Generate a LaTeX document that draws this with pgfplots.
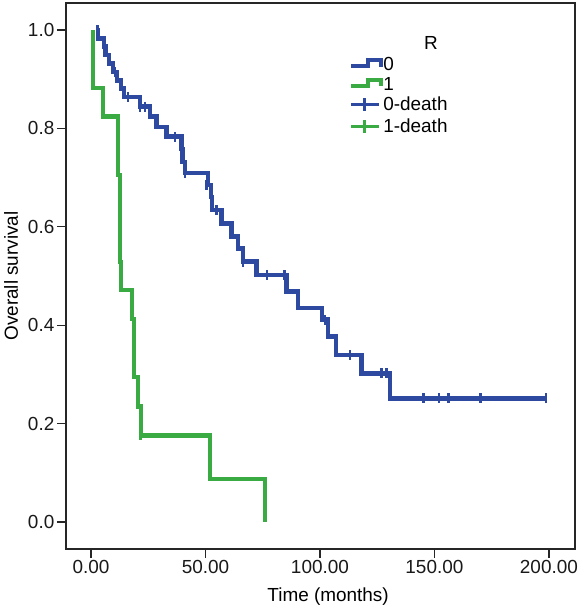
\documentclass[border=0pt]{standalone}
\usepackage{fontspec}
\setmainfont{Liberation Sans}
\usepackage{pgfplots}
\pgfplotsset{compat=1.18}
\definecolor{kmblue}{RGB}{45,73,160}
\definecolor{kmgreen}{RGB}{58,170,66}
\newcommand{\bigf}{\fontsize{19}{22}\selectfont}
\begin{document}
\begin{tikzpicture}
\begin{axis}[name=ax, scale only axis, width=509bp, height=546bp,
  xmin=-10.9, xmax=211.4, ymin=-0.055, ymax=1.055,
  xtick={0,50,100,150,200}, ytick={0,0.2,0.4,0.6,0.8,1.0},
  /pgf/number format/assume math mode=true,
  xticklabel style={/pgf/number format/.cd, fixed, fixed zerofill, precision=2},
  yticklabel style={/pgf/number format/.cd, fixed, fixed zerofill, precision=1},
  every tick label/.append style={font=\bigf, text=black!90, inner sep=2.5bp},
  tick align=outside, tick pos=left, major tick length=9bp,
  every tick/.style={black!85, line width=1.2bp},
  axis line style={line width=1.2bp, black!85},
  xlabel={Time (months)}, ylabel={Overall survival},
  every axis x label/.style={at={(rel axis cs:0.515,0)}, yshift=-48bp, anchor=center, font=\bigf},
  every axis y label/.style={at={(rel axis cs:0,0.5)}, xshift=-55bp, rotate=90, anchor=center, font=\bigf},
  legend style={draw=none, fill=none, at={(rel axis cs:0.55,0.905)}, anchor=north west,
    font=\bigf, nodes={inner sep=0pt, text height=13.5bp, text depth=0pt}, row sep=6bp, column sep=0pt},
  legend cell align=left,
]
% group 0 survival
\addplot[kmblue, line width=4.6bp, const plot, line join=miter,
  legend image code/.code={\draw[kmblue, line width=4.2bp, line join=miter] (0bp,-2.5bp) -- (17bp,-2.5bp) -- (17bp,3.5bp) -- (30bp,3.5bp) -- (30bp,-3bp);}]
coordinates {
(2.6,1.000)(3.1,0.983)(5.7,0.966)(6.3,0.949)(7.9,0.932)(9.6,0.915)(11.4,0.898)
(13.1,0.881)(14.4,0.864)(21.4,0.844)(25.8,0.824)(28.7,0.803)(33.1,0.783)
(39.6,0.758)(40.0,0.732)(41.1,0.709)(51.2,0.685)(52.4,0.661)(52.8,0.634)
(57.1,0.607)(61.4,0.580)(64.3,0.556)(66.4,0.529)(72.4,0.502)(85.5,0.468)
(90.5,0.435)(100.9,0.411)(103.6,0.377)(107.0,0.339)(118.2,0.302)(130.6,0.251)
(198.7,0.251)};
\addlegendentry{0}
% group 1 survival
\addplot[kmgreen, line width=4.3bp, const plot, line join=miter,
  legend image code/.code={\draw[kmgreen, line width=4.2bp, line join=miter] (0bp,-2.5bp) -- (17bp,-2.5bp) -- (17bp,3.5bp) -- (30bp,3.5bp) -- (30bp,-3bp);}]
coordinates {
(0.9,1.000)(0.9,0.882)(5.2,0.824)(11.8,0.706)(12.7,0.529)(13.1,0.471)
(17.9,0.412)(18.8,0.294)(20.5,0.235)(21.8,0.176)(52.0,0.088)(76.0,0.000)};
\addlegendentry{1}
% group 0 censored
\addplot[kmblue, only marks, mark=|, mark size=5bp, line width=2.8bp,
  legend image code/.code={\draw[kmblue, line width=3bp] (0bp,0bp) -- (28bp,0bp); \draw[kmblue, line width=3bp] (13bp,-6.5bp) -- (13bp,6.5bp);}]
coordinates {
(2.8,1.000)(10.5,0.915)(16.2,0.864)(21.4,0.844)(23.6,0.844)(36.7,0.783)
(41.1,0.709)(50.5,0.685)(52.4,0.661)(54.9,0.634)(66.4,0.529)(76.9,0.502)
(84.7,0.502)(102.2,0.411)(113.1,0.339)(126.9,0.302)(129.1,0.302)(145.1,0.251)
(152.0,0.251)(156.0,0.251)(170.3,0.251)(198.7,0.251)};
\addlegendentry{0-death}
% group 1 censored
\addplot[kmgreen, only marks, mark=|, mark size=5bp, line width=2.8bp,
  legend image code/.code={\draw[kmgreen, line width=3bp] (0bp,0bp) -- (28bp,0bp); \draw[kmgreen, line width=3bp] (13bp,-6.5bp) -- (13bp,6.5bp);}]
coordinates {(21.8,0.176)};
\addlegendentry{1-death}
\node[font=\bigf, anchor=center] at (rel axis cs:0.717,0.927) {R};
\end{axis}
\pgfresetboundingbox
\path ([xshift=-66bp,yshift=-64bp]ax.south west) rectangle ([xshift=5bp,yshift=3bp]ax.north east);
\end{tikzpicture}
\end{document}
